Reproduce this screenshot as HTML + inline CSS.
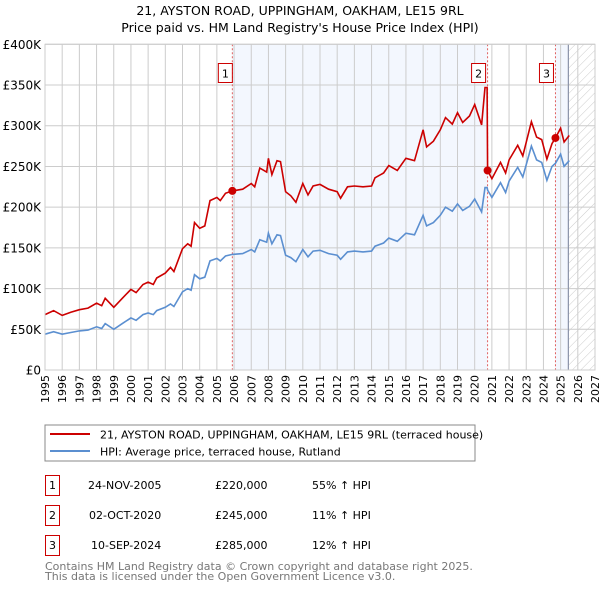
<!DOCTYPE html>
<html><head><meta charset="utf-8"><style>
body{margin:0;background:#fff;font-family:"DejaVu Sans","Liberation Sans",sans-serif;}
svg text{font-family:"DejaVu Sans","Liberation Sans",sans-serif;}
</style></head><body>
<svg id="c" width="600" height="590" xmlns="http://www.w3.org/2000/svg">
<defs><pattern id="hatch" width="6" height="6" patternUnits="userSpaceOnUse" patternTransform="rotate(45)"><line x1="0" y1="0" x2="0" y2="6" stroke="#ccc" stroke-width="1"/></pattern></defs>
<text x="300" y="15" text-anchor="middle" font-size="12.5">21, AYSTON ROAD, UPPINGHAM, OAKHAM, LE15 9RL</text>
<text x="300" y="32" text-anchor="middle" font-size="12.5">Price paid vs. HM Land Registry's House Price Index (HPI)</text>
<g id="plot"></g>
<rect x="45" y="425" width="430" height="36" fill="none" stroke="#888"/>
<line x1="50" y1="434" x2="90" y2="434" stroke="#cc0000" stroke-width="2"/>
<text x="100" y="438.5" font-size="11">21, AYSTON ROAD, UPPINGHAM, OAKHAM, LE15 9RL (terraced house)</text>
<line x1="50" y1="451" x2="90" y2="451" stroke="#5b8fd0" stroke-width="2"/>
<text x="100" y="455.5" font-size="11">HPI: Average price, terraced house, Rutland</text>
<g font-size="11">
<rect x="45.5" y="475.5" width="14" height="20" fill="#fff" stroke="#cc0000"/><text x="52.5" y="489" text-anchor="middle">1</text>
<text x="88" y="489">24-NOV-2005</text><text x="215" y="489">£220,000</text><text x="312" y="489">55% ↑ HPI</text>
<rect x="45.5" y="505.5" width="14" height="20" fill="#fff" stroke="#cc0000"/><text x="52.5" y="519" text-anchor="middle">2</text>
<text x="89" y="519">02-OCT-2020</text><text x="215" y="519">£245,000</text><text x="312" y="519">11% ↑ HPI</text>
<rect x="45.5" y="535.5" width="14" height="20" fill="#fff" stroke="#cc0000"/><text x="52.5" y="549" text-anchor="middle">3</text>
<text x="91" y="549">10-SEP-2024</text><text x="215" y="549">£285,000</text><text x="312" y="549">12% ↑ HPI</text>
</g>
<text x="45" y="570" font-size="11" fill="#777">Contains HM Land Registry data © Crown copyright and database right 2025.</text>
<text x="45" y="580" font-size="11" fill="#777">This data is licensed under the Open Government Licence v3.0.</text>
</svg>
<script>
const years=[1995,1995.5,1996,1996.5,1997,1997.5,1998,1998.3,1998.5,1999,1999.5,2000,2000.3,2000.7,2001,2001.3,2001.5,2002,2002.3,2002.5,2003,2003.3,2003.5,2003.7,2004,2004.3,2004.6,2005,2005.2,2005.5,2005.9,2006.5,2007,2007.2,2007.5,2007.9,2008,2008.2,2008.5,2008.7,2009,2009.3,2009.6,2010,2010.3,2010.6,2011,2011.5,2012,2012.2,2012.6,2013,2013.5,2014,2014.2,2014.7,2015,2015.5,2016,2016.5,2017,2017.2,2017.6,2018,2018.3,2018.7,2019,2019.3,2019.7,2020,2020.4,2020.6,2020.72,2020.75,2021,2021.5,2021.8,2022,2022.5,2022.8,2023.3,2023.6,2023.9,2024.2,2024.5,2024.7,2025,2025.2,2025.5];
const hpiValues=[44,47,44,46,48,49,53,51,57,50,57,64,61,68,70,68,73,77,81,78,96,100,98,117,112,114,134,137,134,140,142,143,148,145,160,157,168,155,166,165,141,138,133,148,139,146,147,143,141,136,145,146,145,146,152,156,162,158,168,166,190,177,181,190,200,195,204,196,201,210,194,224,224,221,212,230,218,232,249,237,275,258,255,233,250,254,265,250,257];
const priceValues=[68,73,67,71,74,76,82,79,88,77,88,99,95,105,108,105,113,119,126,121,149,155,152,181,174,177,208,212,208,217,220,222,229,225,248,243,260,240,257,256,219,214,206,229,215,226,228,222,219,211,225,226,225,226,236,242,251,245,260,257,295,274,281,295,310,302,316,304,312,326,301,347,347,245,235,255,242,258,276,263,305,286,283,259,278,285,297,280,288];
const saleYears=[2005.9,2020.75,2024.7];
const salePrices=[220,245,285];
const saleLabels=["1","2","3"];
const yTicks=[0,50,100,150,200,250,300,350,400];
const yTickLabels=["£0","£50K","£100K","£150K","£200K","£250K","£300K","£350K","£400K"];
const xTicks=[1995,1996,1997,1998,1999,2000,2001,2002,2003,2004,2005,2006,2007,2008,2009,2010,2011,2012,2013,2014,2015,2016,2017,2018,2019,2020,2021,2022,2023,2024,2025,2026,2027];
const dataEnd=2025.45;

const X0=45,X1=595,Y0=370,Y1=44.3;
const xs=t=>X0+(t-1995)/(2027-1995)*(X1-X0);
const ys=v=>Y0-v/400*(Y0-Y1);
const NS="http://www.w3.org/2000/svg";
const g=document.getElementById('plot');
function mk(tag,attrs,parent){const e=document.createElementNS(NS,tag);for(const k in attrs)e.setAttribute(k,attrs[k]);(parent||g).appendChild(e);return e;}

let e;
e=mk('rect',{x:xs(saleYears[0]),y:Y1,width:xs(saleYears[1])-xs(saleYears[0]),height:Y0-Y1,fill:'#eef3fd',opacity:0.7});


e=mk('rect',{x:xs(saleYears[2]),y:Y1,width:xs(dataEnd)-xs(saleYears[2]),height:Y0-Y1,fill:'#eef3fd',opacity:0.7});


e=mk('rect',{x:xs(dataEnd),y:Y1,width:X1-xs(dataEnd),height:Y0-Y1,fill:'url(#hatch)'});



xTicks.forEach((t,i)=>{
  e=mk('line',{x1:xs(t),x2:xs(t),y1:Y1,y2:Y0,stroke:'#ccc','stroke-width':1});
  
  
  const x=xs(t)+4,y=Y0+5;
  e=mk('text',{x:x,y:y,'font-size':11,'text-anchor':'end',transform:`rotate(-90 ${x} ${y})`});
  e.textContent=t;
  
  
});
yTicks.forEach((v,i)=>{
  e=mk('line',{x1:X0,x2:X1,y1:ys(v),y2:ys(v),stroke:'#ccc','stroke-width':1});
  
  
  e=mk('text',{x:X0-4,y:ys(v)+4.5,'font-size':12,'text-anchor':'end'});
  e.textContent=yTickLabels[i];
  
  
});
e=mk('line',{x1:xs(dataEnd),x2:xs(dataEnd),y1:Y1,y2:Y0,stroke:'#8a93a8','stroke-width':1.2});



saleYears.forEach((t,i)=>{
  e=mk('line',{x1:xs(t),x2:xs(t),y1:Y1,y2:Y0,stroke:'#e06060','stroke-width':1,'stroke-dasharray':'2,2'});
  
  
});

const pts=arr=>years.map((t,i)=>xs(t).toFixed(1)+','+ys(arr[i]).toFixed(1)).join(' ');
e=mk('polyline',{points:pts(hpiValues),fill:'none',stroke:'#5b8fd0','stroke-width':1.6});


e=mk('polyline',{points:pts(priceValues),fill:'none',stroke:'#cc0000','stroke-width':1.6});



saleYears.forEach((t,i)=>{
  e=mk('circle',{cx:xs(t),cy:ys(salePrices[i]),r:4,fill:'#cc0000'});
  
  
  const bx=xs(t)-7-(i==0?0:2);
  e=mk('rect',{x:bx-7,y:63.5,width:14,height:19,fill:'#fff',stroke:'#cc0000'});
  
  
  e=mk('text',{x:bx,y:77.5,'font-size':11,'text-anchor':'middle'});
  e.textContent=saleLabels[i];
  
  
});
e=mk('rect',{x:X0,y:Y1,width:X1-X0,height:Y0-Y1,fill:'none',stroke:'#ccc'});


</script>
</body></html>
